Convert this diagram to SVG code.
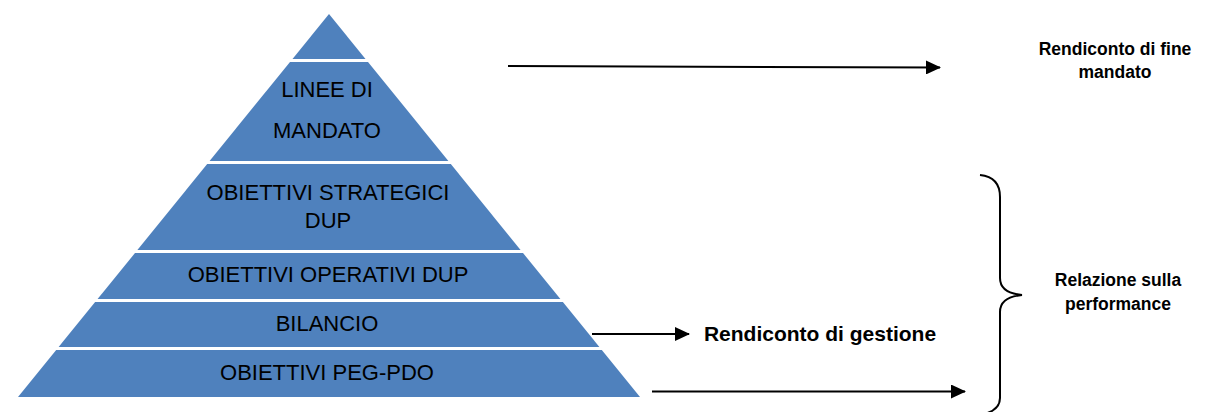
<svg xmlns="http://www.w3.org/2000/svg" width="1226" height="412" viewBox="0 0 1226 412">
<defs>
<style>
.layer{fill:#4F81BD;}
.pt{font-family:"Liberation Sans",Arial,sans-serif;font-size:22px;fill:#000;text-anchor:middle;}
.lbl{font-family:"Liberation Sans",Arial,sans-serif;font-weight:bold;font-size:17.5px;fill:#000;text-anchor:middle;}
.con{stroke:#000;stroke-width:2;fill:none;}
</style>
<marker id="ah" markerUnits="userSpaceOnUse" markerWidth="16" markerHeight="14" refX="14" refY="7" orient="auto">
<path d="M0,0 L15,7 L0,14 z" fill="#000"/>
</marker>
</defs>
<rect width="1226" height="412" fill="#fff"/>
<g id="apex"><polygon class="layer" points="329,14 365.5,59 292.5,59"/></g>
<g id="linee-mandato">
<polygon class="layer" points="290,62 368,62 448.4,161 209.6,161"/>
<text class="pt" x="327" y="97">LINEE DI</text>
<text class="pt" x="327" y="138">MANDATO</text>
</g>
<g id="obiettivi-strategici">
<polygon class="layer" points="207.2,164 450.8,164 520.6,250 137.4,250"/>
<text class="pt" x="328" y="200">OBIETTIVI STRATEGICI</text>
<text class="pt" x="328" y="228">DUP</text>
</g>
<g id="obiettivi-operativi">
<polygon class="layer" points="135,253 523,253 560.4,299 97.6,299"/>
<text class="pt" x="328" y="282">OBIETTIVI OPERATIVI DUP</text>
</g>
<g id="bilancio">
<polygon class="layer" points="95.1,302 562.9,302 599.4,347 58.6,347"/>
<text class="pt" x="327" y="331">BILANCIO</text>
</g>
<g id="peg-pdo">
<polygon class="layer" points="56.2,350 601.8,350 640,397 18,397"/>
<text class="pt" x="327" y="380">OBIETTIVI PEG-PDO</text>
</g>
<g id="connectors">
<line class="con" x1="508" y1="66" x2="940" y2="67.5" marker-end="url(#ah)"/>
<line class="con" x1="592" y1="334" x2="689" y2="334" marker-end="url(#ah)"/>
<line class="con" x1="652" y1="391.5" x2="965" y2="391.5" marker-end="url(#ah)"/>
<path class="con" d="M980,175 Q1000,177 1000,197 L1000,278 Q1000,293 1022,295 Q1000,297 1000,312 L1000,398 Q1000,410 984,414"/>
</g>
<g id="rendiconto-fine">
<text class="lbl" x="1115" y="55">Rendiconto di fine</text>
<text class="lbl" x="1115" y="78">mandato</text>
</g>
<g id="rendiconto-gestione">
<text class="lbl" x="820" y="341" style="font-size:21px">Rendiconto di gestione</text>
</g>
<g id="relazione">
<text class="lbl" x="1118" y="286">Relazione sulla</text>
<text class="lbl" x="1118" y="310">performance</text>
</g>
</svg>
